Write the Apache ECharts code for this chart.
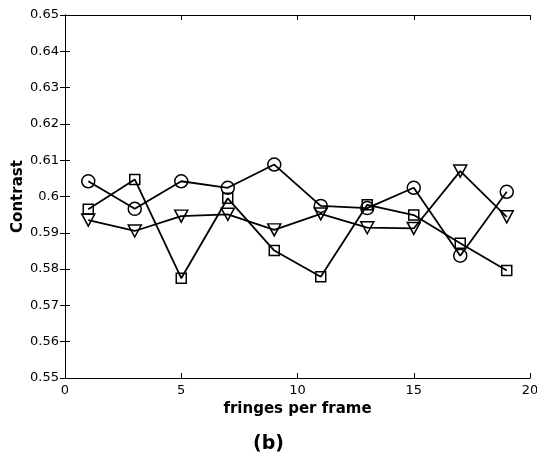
<!DOCTYPE html>
<html>
<head>
<meta charset="utf-8">
<script src="https://cdn.jsdelivr.net/npm/echarts@6/dist/echarts.min.js"></script>
<style>
  html, body { margin: 0; padding: 0; background: #fff; }
  #chart { width: 537px; height: 460px; }
</style>
</head>
<body>
<div id="chart"></div>
<script>
// Fringes per frame (x) and measured contrast for three runs
const fringes = [1, 3, 5, 7, 9, 11, 13, 15, 17, 19];
const circleRun   = [0.6042, 0.5966, 0.6042, 0.6024, 0.6088, 0.5974, 0.5968, 0.6024, 0.5837, 0.6013];
const squareRun   = [0.5965, 0.6047, 0.5775, 0.5995, 0.5851, 0.5779, 0.5977, 0.5949, 0.5871, 0.5796];
const triangleRun = [0.5935, 0.5905, 0.5946, 0.5951, 0.5908, 0.5952, 0.5914, 0.5912, 0.6070, 0.5944];
const xTicks = [0, 5, 10, 15, 20];
const yRange = [0.55, 0.65];

const FONT = '"DejaVu Sans", "Liberation Sans", Arial, sans-serif';
const pair = (ys) => fringes.map((x, i) => [x, ys[i]]);

function lineSeries(name, ys, symbol, size, rotate) {
  return {
    name, type: 'line', data: pair(ys),
    symbol, symbolSize: size, symbolRotate: rotate || 0,
    showAllSymbol: true,
    lineStyle: { color: '#000', width: 1.8 },
    itemStyle: { color: 'rgba(255,255,255,0)', borderColor: '#000', borderWidth: 1.5 },
    emphasis: { disabled: true },
    animation: false,
    z: 3
  };
}

const tickStyle = { show: true, inside: true, length: 5, lineStyle: { color: '#000', width: 1 } };
const axisLineStyle = { show: true, lineStyle: { color: '#000', width: 1 } };
const labelStyle = { color: '#000', fontFamily: FONT, fontSize: 13 };

const chart = echarts.init(document.getElementById('chart'), null, { renderer: 'canvas' });
chart.setOption({
  backgroundColor: '#fff',
  animation: false,
  grid: { left: 65, right: 7, top: 15, bottom: 82, containLabel: false, outerBoundsMode: 'none' },
  xAxis: [
    {
      type: 'value', min: xTicks[0], max: xTicks[xTicks.length - 1], interval: 5,
      position: 'bottom',
      axisLine: axisLineStyle, axisTick: tickStyle, splitLine: { show: false },
      axisLabel: Object.assign({ margin: 6 }, labelStyle),
      name: 'fringes per frame', nameLocation: 'middle', nameGap: 22,
      nameTextStyle: { color: '#000', fontFamily: FONT, fontSize: 15, fontWeight: 'bold' }
    },
    {
      type: 'value', min: xTicks[0], max: xTicks[xTicks.length - 1], interval: 5,
      position: 'top',
      axisLine: axisLineStyle, axisTick: tickStyle, splitLine: { show: false },
      axisLabel: { show: false }
    }
  ],
  yAxis: [
    {
      type: 'value', min: yRange[0], max: yRange[1], interval: 0.01,
      position: 'left',
      axisLine: axisLineStyle, axisTick: tickStyle, splitLine: { show: false },
      axisLabel: Object.assign({ margin: 6, formatter: (v) => String(+v.toFixed(2)) }, labelStyle),
      name: 'Contrast', nameLocation: 'middle', nameGap: 39, nameRotate: 90,
      nameMoveOverlap: false,
      nameTextStyle: { color: '#000', fontFamily: FONT, fontSize: 15, fontWeight: 'bold' }
    },
    {
      type: 'value', min: yRange[0], max: yRange[1], interval: 0.01,
      position: 'right',
      axisLine: axisLineStyle, axisTick: tickStyle, splitLine: { show: false },
      axisLabel: { show: false }
    }
  ],
  title: {
    text: '(b)', left: 'center', top: 435,
    textStyle: { color: '#000', fontFamily: FONT, fontSize: 19, fontWeight: 'bold' },
    padding: 0
  },
  series: [
    lineSeries('circles', circleRun, 'circle', 13),
    lineSeries('squares', squareRun, 'rect', 10),
    lineSeries('triangles', triangleRun, 'triangle', [13, 12], 180)
  ]
});
</script>
</body>
</html>
